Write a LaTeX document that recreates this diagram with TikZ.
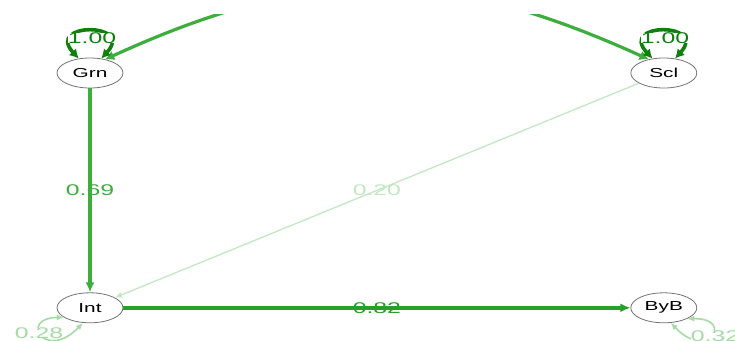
\documentclass[tikz,border=0pt]{standalone}
\usepackage{fontspec}
\usepackage{tikz}
\usetikzlibrary{positioning,arrows.meta,shapes.geometric}
\newfontfamily\semfont[FakeStretch=1.6]{Liberation Sans}
\definecolor{gdark}{HTML}{0F800F}
\definecolor{gstrong}{HTML}{27A027}
\definecolor{gmid}{HTML}{3DAE3D}
\definecolor{gpale}{HTML}{C2E8C2}
\definecolor{glight}{HTML}{A6DBA6}
\tikzset{
  lat/.style={draw=black!55, ellipse, line width=0.8pt, minimum width=66pt, minimum height=30pt, inner sep=0pt, font=\semfont\fontsize{13}{13}\selectfont},
  coef/.style={font=\semfont\fontsize{15.5}{15.5}\selectfont, inner sep=0pt},
  path/.style={-{Latex[length=10pt,width=9pt]}, line width=3.8pt},
  varloop/.style={{Latex[length=9pt,width=10pt]}-{Latex[length=9pt,width=10pt]}, line width=3.6pt, gdark},
}

\begin{document}
\begin{tikzpicture}[x=1pt, y=-1pt]
  \useasboundingbox (0,0) rectangle (735,340);
  \node[lat] (Grn) at (90,73) {Grn};
  \node[lat, right=507pt of Grn] (Scl) {Scl};
  \node[lat, below=204pt of Grn] (Int) {Int};
  \node[lat, below=204pt of Scl] (ByB) {ByB};
  % regressions
  \draw[path, gmid] (Grn) -- (Int) node[coef, midway, text=gmid] {0.69};
  \draw[path, gstrong] (Int) -- (ByB) node[coef, midway, text=gstrong] {0.82};
  \draw[-{Latex[length=7pt,width=6pt]}, line width=1.3pt, gpale] (Scl) -- (Int)
    node[coef, pos=0.5, text=gpale] {0.20};
  % covariance (runs off the top)
  \begin{scope}
    \clip (0,14) rectangle (735,340);
    \draw[varloop, gmid, line width=3.2pt] (Grn.42) .. controls (312,-35) and (441,-35) .. (Scl.138);
  \end{scope}
  % variances
  \draw[varloop] (Grn.128) .. controls (45,22) and (135,22) .. (Grn.52);
  \node[coef, fill=white, text=gdark] (vGrn) at (92,38) {1.00};
  \draw[varloop] (Scl.128) .. controls (618,22) and (708,22) .. (Scl.52);
  \node[coef, fill=white, text=gdark] (vScl) at (665,38) {1.00};
  \draw[{Latex[length=7pt,width=6pt]}-{Latex[length=7pt,width=6pt]}, line width=1.6pt, glight]
    (Int.200) .. controls (18,318) and (45,362) .. (Int.245);
  \node[coef, fill=white, text=glight] (vInt) at (39,333) {0.28};
  \draw[{Latex[length=7pt,width=6pt]}-{Latex[length=7pt,width=6pt]}, line width=1.6pt, glight]
    (ByB.335) .. controls (735,318) and (708,362) .. (ByB.295);
  \node[coef, fill=white, text=glight] (vByB) at (715,336) {0.32};
\end{tikzpicture}
\end{document}
